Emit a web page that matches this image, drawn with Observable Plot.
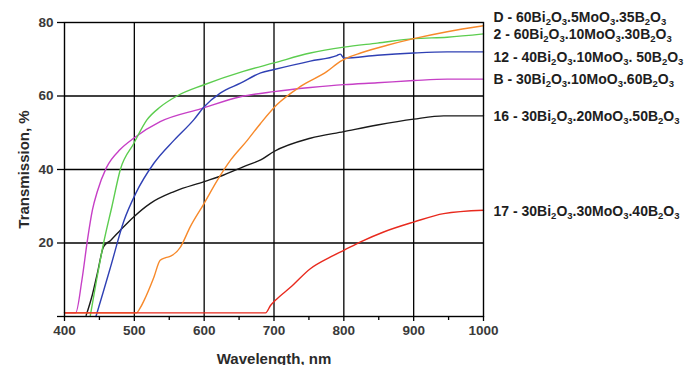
<!DOCTYPE html>
<html>
<head>
<meta charset="utf-8">
<script src="https://cdn.jsdelivr.net/npm/d3@7"></script>
<script src="https://cdn.jsdelivr.net/npm/@observablehq/plot@0.6"></script>
<style>
  html, body { margin: 0; padding: 0; background: #fff; }
  #chart { width: 697px; height: 365px; overflow: hidden; }
</style>
</head>
<body>
<div id="chart"></div>
<script>
// Series names (as labelled on the chart)
const seriesNames = [
  "D - 60Bi2O3.5MoO3.35B2O3",
  "2 - 60Bi2O3.10MoO3.30B2O3",
  "12 - 40Bi2O3.10MoO3. 50B2O3",
  "B - 30Bi2O3.10MoO3.60B2O3",
  "16 - 30Bi2O3.20MoO3.50B2O3",
  "17 - 30Bi2O3.30MoO3.40B2O3"
];
const seriesColors = ["#f7892a", "#5ccd4f", "#2f40b4", "#c63fc6", "#1a1a1a", "#e82a1e"];

// Wavelength (nm) / transmission (%)
const dWave  = [400, 503, 508, 514, 528, 537, 545, 552, 566, 580, 600, 619, 638, 662, 681, 704, 738, 776, 795, 805, 824, 862, 900, 948, 1000];
const dTrans = [1.0, 1.0, 2.2, 4.4, 10.7, 15.3, 16.0, 16.4, 18.9, 24.4, 30.8, 37.1, 42.6, 48.0, 52.6, 57.6, 62.6, 66.7, 69.4, 70.4, 71.7, 73.8, 75.6, 77.5, 79.1];

const s2Wave  = [437, 446, 456, 468, 480, 499, 518, 537, 561, 599, 656, 700, 752, 800, 848, 900, 948, 1000];
const s2Trans = [0.3, 10, 20, 30, 40, 47, 53.5, 57, 60, 63, 66.7, 69, 71.7, 73.3, 74.4, 75.6, 76, 76.9];

const s12Wave  = [445, 456, 466, 485, 502, 528, 557, 585, 600, 623, 652, 681, 700, 752, 790, 795, 800, 848, 900, 948, 1000];
const s12Trans = [0, 7, 13.5, 26, 33.5, 41.7, 48, 53.5, 57.1, 60.8, 63.5, 66.3, 67.2, 69.5, 71, 71.4, 70.3, 71.1, 71.7, 72, 72];

const bWave  = [400, 416, 425, 433, 440, 447, 460, 480, 499, 537, 595, 652, 700, 752, 800, 848, 900, 948, 1000];
const bTrans = [1.0, 1.0, 10, 21, 29, 34, 40.5, 45.5, 48.5, 53, 56.5, 59.8, 61.2, 62.3, 63.1, 63.6, 64.2, 64.6, 64.6];

const s16Wave  = [431, 440, 447, 456, 466, 480, 499, 523, 557, 600, 628, 662, 681, 700, 752, 800, 848, 900, 943, 1000];
const s16Trans = [0.3, 6, 11.7, 19, 20.7, 23.5, 27.1, 30.8, 34, 36.7, 38.5, 41.2, 42.6, 44.9, 48.5, 50.3, 52.1, 53.7, 54.6, 54.6];

const s17Wave  = [400, 688, 695, 702, 724, 752, 781, 800, 824, 857, 900, 943, 1000];
const s17Trans = [1.0, 1.0, 3, 4.4, 8, 13, 16.2, 18, 20.3, 23, 25.7, 28, 28.9];

// Label nudges (transmission units) so the labels do not collide
const labelNudge = [2.2, -0.2, -1.5, 0, -0.3, -0.2];

// Tick values
const xTicks = [400, 500, 600, 700, 800, 900, 1000];
const xMinorTicks = [450, 550, 650, 750, 850, 950];
const yTicks = [0, 20, 40, 60, 80];

const waves = [dWave, s2Wave, s12Wave, bWave, s16Wave, s17Wave];
const trans = [dTrans, s2Trans, s12Trans, bTrans, s16Trans, s17Trans];

// Draw order: B (under), 16, 12, 2, D, 17 on top (flat red baseline)
const drawOrder = [3, 4, 2, 1, 0, 5];
const rows = [];
for (const i of drawOrder) {
  waves[i].forEach((w, k) => rows.push({series: seriesNames[i], wave: w, t: trans[i][k]}));
}
const labels = seriesNames.map((name, i) => ({
  series: name,
  wave: 1000,
  t: trans[i][trans[i].length - 1] + labelNudge[i]
}));

const font = "'Liberation Sans', Arial, Helvetica, sans-serif";

const chart = Plot.plot({
  width: 697,
  height: 365,
  marginLeft: 64,
  marginRight: 214,
  marginTop: 22,
  marginBottom: 49,
  style: {fontFamily: font, fontSize: "13.5px", fontWeight: "bold", color: "#3a3a3a", background: "#fff", overflow: "visible"},
  x: {domain: [400, 1000]},
  y: {domain: [0, 80]},
  color: {domain: seriesNames, range: seriesColors},
  marks: [
    Plot.gridX(xTicks.slice(1, -1), {stroke: "#000", strokeOpacity: 1, strokeWidth: 1.3}),
    Plot.gridY(yTicks.slice(1, -1), {stroke: "#000", strokeOpacity: 1, strokeWidth: 1.3}),
    Plot.axisX({ticks: xTicks, tickSize: 5, tickPadding: 4, stroke: "#000", strokeWidth: 1.3,
      tickFormat: d => String(d),
      label: "Wavelength, nm", labelAnchor: "center", labelOffset: 47, labelArrow: "none", fontSize: 13.5}),
    Plot.axisX({ticks: xMinorTicks, tickSize: 4, text: null, label: null, stroke: "#000", strokeWidth: 1.3}),
    Plot.axisY({ticks: yTicks, tickSize: 7, tickPadding: 4, stroke: "#000", strokeWidth: 1.3,
      tickFormat: d => d === 0 ? "" : String(d),
      label: "Transmission, %", labelAnchor: "center", labelOffset: 46, labelArrow: "none", fontSize: 13.5}),
    Plot.line(rows, {x: "wave", y: "t", z: "series", stroke: "series", strokeWidth: 1.4, curve: "monotone-x"}),
    Plot.frame({stroke: "#000", strokeWidth: 1.4}),
    Plot.text(labels, {x: "wave", y: "t", text: "series", dx: 10, textAnchor: "start",
      fill: "#1e1e1e", fontSize: 14, fontWeight: "bold"})
  ]
});

// Subscript digits that directly follow a letter (chemical formulae)
d3.select(chart).selectAll("text").each(function () {
  const el = this;
  if (el.querySelector("tspan")) return;
  const s = el.textContent;
  if (!/B2O3/.test(s)) return;
  const parts = [];
  for (let k = 0; k < s.length; k++) {
    const ch = s[k];
    const sub = /\d/.test(ch) && k > 0 && /[A-Za-z]/.test(s[k - 1]);
    const last = parts[parts.length - 1];
    if (last && last.sub === sub) last.text += ch; else parts.push({text: ch, sub});
  }
  el.textContent = "";
  let shifted = false;
  for (const p of parts) {
    const t = document.createElementNS("http://www.w3.org/2000/svg", "tspan");
    t.textContent = p.text;
    if (p.sub) { t.setAttribute("font-size", "9.5"); t.setAttribute("dy", "3"); shifted = true; }
    else if (shifted) { t.setAttribute("dy", "-3"); shifted = false; }
    el.appendChild(t);
  }
});

// Axis label styling
d3.select(chart).selectAll("[aria-label='x-axis label'] text, [aria-label='y-axis label'] text")
  .attr("font-size", 15).attr("fill", "#2a2a2a");

document.getElementById("chart").appendChild(chart);
</script>
</body>
</html>
